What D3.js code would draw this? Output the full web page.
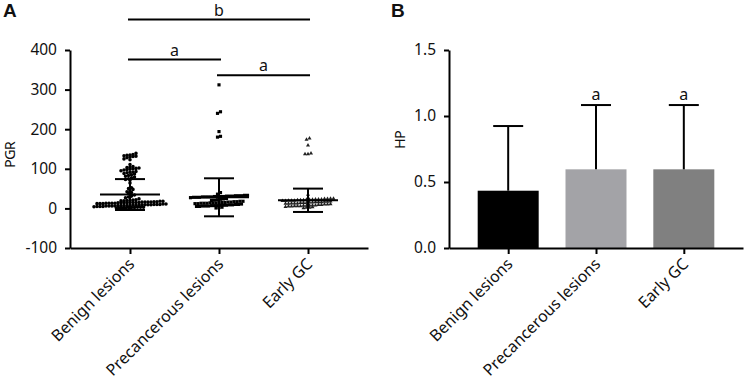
<!DOCTYPE html>
<html>
<head>
<meta charset="utf-8">
<script src="https://cdn.jsdelivr.net/npm/d3@7"></script>
<style>
  body { margin: 0; background: #fff; }
  text { font-family: "Noto Sans", "DejaVu Sans", sans-serif; fill: #111; }
</style>
</head>
<body>
<svg id="fig" width="749" height="386"></svg>
<script>
// ---- data ----
const groups = ["Benign lesions", "Precancerous lesions", "Early GC"];

// panel A: individual PGR values (scatter)
const benignPGR = [139,136,135,134,133,132,131,130,128,125,123,
  111,106,104,103,102,101,100,99,98,97,95,
  93,92,91,90,88,87,85,83,81,79,77,75,73,71,64,
  52,50,48,44,42,40,38,34,31,29,27,24,22,21,20,19,19,20,
  12,12,13,13,13,14,14,14,15,15,15,16,16,16,17,17,18,18,12,13,14,15,16,
  4,5,5,5,6,6,6,7,7,7,8,8,8,9,9,9,10,10,11,11,6,7,8,9,10,
  0,1,1,2,2,3,3,3,1,2];
const precancerPGR = [312,244,240,194,182,180,40,36,
  27,28,28,28,29,29,29,29,30,30,30,30,31,31,31,32,32,32,33,33,
  20,21,22,23,24,25,
  12,12,13,13,13,14,14,14,15,15,15,16,16,17,17,18,18,
  5,5,6,6,6,7,7,7,8,8,8,9,9,10,10,11,
  1,2,3];
const earlyPGR = [177,174,159,139,137,137,35,
  19,19,20,20,20,21,21,21,22,22,22,23,23,23,24,24,25,25,
  12,12,13,13,13,14,14,14,15,15,16,16,16,17,17,18,
  4,5,5,6,6,6,7,7,8,8,8,9,9,10,10,11,
  1,2,2,3];
const pgrMean = [35, 28, 20.5];
const pgrSD = [39, 48, 29.5];
const pgrTicks = [-100, 0, 100, 200, 300, 400];

// significance brackets on panel A (level in PGR units)
const brackets = [
  { from: 0, to: 2, level: 477, label: "b" },
  { from: 0, to: 1, level: 376, label: "a" },
  { from: 1, to: 2, level: 336, label: "a" }
];

// panel B: HP mean and SD
const hpMean = [0.434, 0.596, 0.596];
const hpSD = [0.49, 0.487, 0.487];
const hpSig = ["", "a", "a"];
const hpTicks = [0, 0.5, 1.0, 1.5];
const barColors = ["#000000", "#a3a3a7", "#808080"];

// ---- layout ----
const svg = d3.select("#fig");
const W = 298, H = 198, marginTop = 50;

function xAxis(g, x) {
  g.attr("transform", `translate(0,${H})`)
    .call(d3.axisBottom(x).tickSize(6).tickSizeOuter(0))
    .call(g => g.selectAll("path, line").attr("stroke", "#000").attr("stroke-width", 2))
    .call(g => g.selectAll("text")
      .attr("x", 0).attr("y", 0).attr("dy", 0)
      .attr("text-anchor", "end")
      .attr("transform", "translate(5,17) rotate(-45)")
      .style("font-size", "16px").attr("fill", "#111"));
}
function yAxis(g, y, ticks, fmt) {
  g.call(d3.axisLeft(y).tickValues(ticks).tickFormat(fmt)
      .tickSize(5).tickPadding(8).tickSizeOuter(0))
    .call(g => g.selectAll("path, line").attr("stroke", "#000").attr("stroke-width", 2))
    .call(g => g.selectAll("text").style("font-size", "15.5px").attr("fill", "#111"));
}

// ---------- Panel A ----------
const gA = svg.append("g").attr("transform", `translate(70,${marginTop})`);
const xA = d3.scalePoint().domain(groups).range([0, W]).padding(0.674);
const yA = d3.scaleLinear().domain([-100, 400]).range([H, 0]);

gA.append("g").call(xAxis, xA);
gA.append("g").call(yAxis, yA, pgrTicks, d => String(d));

// swarm: bin points by row height and spread them sideways
const dotD = 3;
const symbols = [d3.symbolCircle, d3.symbolSquare, d3.symbolTriangle];
[benignPGR, precancerPGR, earlyPGR].forEach((vals, gi) => {
  const cx = xA(groups[gi]);
  const bins = d3.group(vals, v => Math.round((yA(0) - yA(v)) / dotD));
  const pts = [];
  bins.forEach(arr => {
    arr.slice().sort(d3.ascending).forEach((v, k) => {
      const n = arr.length;
      const off = (k - (n - 1) / 2) * dotD;
      pts.push({ x: cx + off, y: yA(v) });
    });
  });
  gA.append("g").selectAll("path").data(pts).join("path")
    .attr("transform", d => `translate(${d.x},${d.y})`)
    .attr("d", d3.symbol().type(symbols[gi]).size(gi === 2 ? 7 : 10))
    .attr("fill", gi === 2 ? "#222" : "#000");
});

// mean and SD bars
groups.forEach((gname, i) => {
  const cx = xA(gname);
  const m = pgrMean[i], s = pgrSD[i];
  const eg = gA.append("g").attr("stroke", "#000").attr("stroke-width", 2);
  eg.append("line").attr("x1", cx - 30).attr("x2", cx + 30).attr("y1", yA(m)).attr("y2", yA(m));
  eg.append("line").attr("x1", cx).attr("x2", cx).attr("y1", yA(m - s)).attr("y2", yA(m + s));
  [m - s, m + s].forEach(v => {
    eg.append("line").attr("x1", cx - 15).attr("x2", cx + 15).attr("y1", yA(v)).attr("y2", yA(v));
  });
});

brackets.forEach(b => {
  const x1 = xA(groups[b.from]) - 2, x2 = xA(groups[b.to]) + 2;
  gA.append("line").attr("x1", x1).attr("x2", x2)
    .attr("y1", yA(b.level)).attr("y2", yA(b.level))
    .attr("stroke", "#000").attr("stroke-width", 2);
  gA.append("text").attr("x", (x1 + x2) / 2).attr("y", yA(b.level) - 4)
    .attr("text-anchor", "middle").style("font-size", "16px").text(b.label);
});

gA.append("text").attr("transform", `translate(-55,${H / 2 + 6}) rotate(-90)`)
  .attr("text-anchor", "middle").style("font-size", "14.5px")
  .style("letter-spacing", "-0.8px").text("PGR");
svg.append("text").attr("x", 3).attr("y", 17)
  .style("font-family", "'Liberation Sans', Arial, sans-serif")
  .style("font-weight", "bold").style("font-size", "19px").attr("fill", "#111").text("A");

// ---------- Panel B ----------
const gB = svg.append("g").attr("transform", `translate(449,${marginTop})`);
const xB = d3.scalePoint().domain(groups).range([0, W - 4]).padding(0.674);
const yB = d3.scaleLinear().domain([0, 1.5]).range([H, 0]);
const barW = 61;

gB.selectAll("rect").data(groups).join("rect")
  .attr("x", d => xB(d) - barW / 2)
  .attr("y", (d, i) => yB(hpMean[i]))
  .attr("width", barW)
  .attr("height", (d, i) => yB(0) - yB(hpMean[i]))
  .attr("fill", (d, i) => barColors[i]);

groups.forEach((gname, i) => {
  const cx = xB(gname);
  const topV = hpMean[i] + hpSD[i];
  const eg = gB.append("g").attr("stroke", "#000").attr("stroke-width", 2);
  eg.append("line").attr("x1", cx).attr("x2", cx).attr("y1", yB(hpMean[i])).attr("y2", yB(topV));
  eg.append("line").attr("x1", cx - 15).attr("x2", cx + 15).attr("y1", yB(topV)).attr("y2", yB(topV));
  if (hpSig[i]) {
    gB.append("text").attr("x", cx).attr("y", yB(topV) - 5)
      .attr("text-anchor", "middle").style("font-size", "16px").text(hpSig[i]);
  }
});

gB.append("g").call(xAxis, xB);
gB.append("g").call(yAxis, yB, hpTicks, d3.format(".1f"));

gB.append("text").attr("transform", `translate(-44,${H / 2 - 9}) rotate(-90)`)
  .attr("text-anchor", "middle").style("font-size", "14.5px")
  .style("letter-spacing", "-0.8px").text("HP");
svg.append("text").attr("x", 391).attr("y", 17)
  .style("font-family", "'Liberation Sans', Arial, sans-serif")
  .style("font-weight", "bold").style("font-size", "19px").attr("fill", "#111").text("B");
</script>
</body>
</html>
